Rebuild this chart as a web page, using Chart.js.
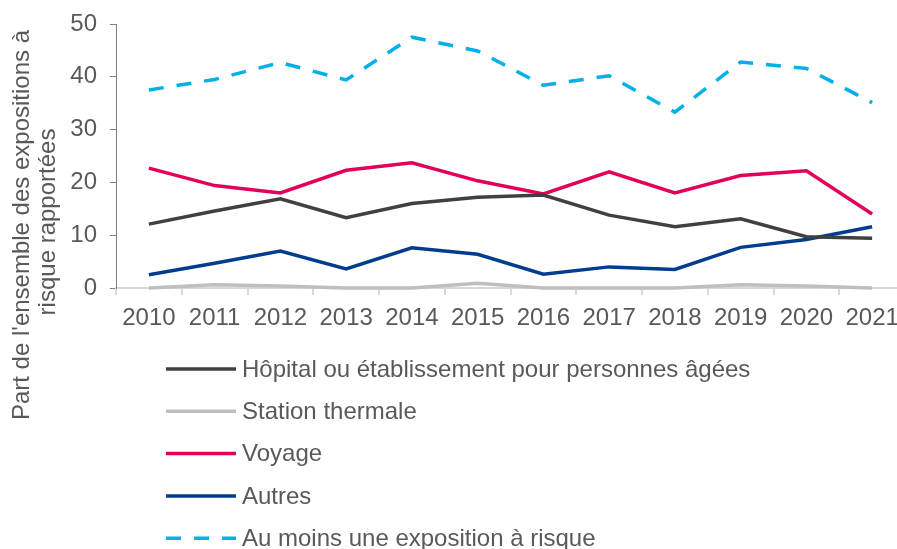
<!DOCTYPE html>
<html>
<head>
<meta charset="utf-8">
<script src="https://cdn.jsdelivr.net/npm/chart.js@4.4.0/dist/chart.umd.min.js"></script>
<style>
  html, body { margin: 0; padding: 0; background: #fff; overflow: hidden; }
  #wrap { width: 905px; height: 549px; }
</style>
</head>
<body>
<div id="wrap"><canvas id="myChart"></canvas></div>
<script>
const years = ['2010', '2011', '2012', '2013', '2014', '2015', '2016', '2017', '2018', '2019', '2020', '2021']
const hopital = [12.1, 14.6, 16.9, 13.3, 16.0, 17.2, 17.6, 13.8, 11.6, 13.1, 9.7, 9.4]
const station = [0, 0.6, 0.4, 0, 0, 0.9, 0, 0, 0, 0.6, 0.4, 0]
const voyage = [22.7, 19.4, 18.0, 22.3, 23.7, 20.3, 17.8, 22.0, 18.0, 21.3, 22.2, 14.0]
const autres = [2.5, 4.7, 7.0, 3.6, 7.6, 6.4, 2.6, 4.0, 3.5, 7.7, 9.2, 11.6]
const auMoins = [37.5, 39.5, 42.7, 39.4, 47.5, 44.9, 38.4, 40.2, 33.3, 42.8, 41.6, 35.1]
const yTitle = ["Part de l'ensemble des expositions à", 'risque rapportées']

const textColor = '#595959'
const font = 'Arial, "Liberation Sans", sans-serif'

// legend drawn as a vertical list under the axis
const legendList = {
  id: 'legendList',
  afterDraw(chart) {
    const c = chart.ctx
    c.save()
    c.font = '24px ' + font
    c.textBaseline = 'middle'
    c.fillStyle = textColor
    chart.data.datasets.forEach((ds, i) => {
      const y = 369 + i * 42.3
      c.beginPath()
      c.strokeStyle = ds.borderColor
      c.lineWidth = 3.5
      c.setLineDash(ds.borderDash || [])
      c.moveTo(166, y)
      c.lineTo(236, y)
      c.stroke()
      c.setLineDash([])
      c.fillText(ds.label, 242, y + 1)
    })
    // y axis title, rotated
    c.textAlign = 'center'
    c.translate(22, 225)
    c.rotate(-Math.PI / 2)
    c.fillText(yTitle[0], 0, 0)
    c.fillText(yTitle[1], 3, 26.5)
    c.restore()
  }
}

let ctx = document.getElementById('myChart')

let myChart = new Chart(ctx, {
  type: 'line',
  data: {
    labels: years,
    datasets: [{
      label: 'Hôpital ou établissement pour personnes âgées',
      data: hopital,
      borderColor: '#404040',
    }, {
      label: 'Station thermale',
      data: station,
      borderColor: '#bfbfbf',
    }, {
      label: 'Voyage',
      data: voyage,
      borderColor: '#e2005a',
    }, {
      label: 'Autres',
      data: autres,
      borderColor: '#003d8f',
    }, {
      label: 'Au moins une exposition à risque',
      data: auMoins,
      borderColor: '#00b0e6',
      borderDash: [15, 13],
    }]
  },
  options: {
    responsive: true,
    maintainAspectRatio: false,
    animation: false,
    datasets: {
      line: {
        borderWidth: 3.5,
        pointRadius: 0,
        tension: 0,
        clip: false,
        borderCapStyle: 'butt',
      }
    },
    layout: { padding: { top: 24, right: 0, bottom: 201, left: 0 } },
    plugins: {
      legend: { display: false },
      tooltip: { enabled: false },
    },
    scales: {
      x: {
        offset: true,
        grid: { offset: true, drawOnChartArea: false, tickLength: 7, color: '#d9d9d9', lineWidth: 2 },
        border: { color: '#d9d9d9', width: 2 },
        ticks: { color: textColor, font: { size: 24, family: font }, padding: 9, maxRotation: 0, autoSkip: false },
        afterFit: s => { s.height = 60; s.paddingLeft = 0; s.paddingRight = 0 },
      },
      y: {
        min: 0,
        max: 50,
        grid: { drawOnChartArea: false, tickLength: 6, color: '#7f7f7f' },
        border: { color: '#7f7f7f', width: 1 },
        ticks: { stepSize: 10, color: textColor, font: { size: 24, family: font }, padding: 13 },
        afterFit: s => { s.width = 116; s.paddingTop = 0; s.paddingBottom = 0 },
      }
    }
  },
  plugins: [legendList]
})
</script>
</body>
</html>
